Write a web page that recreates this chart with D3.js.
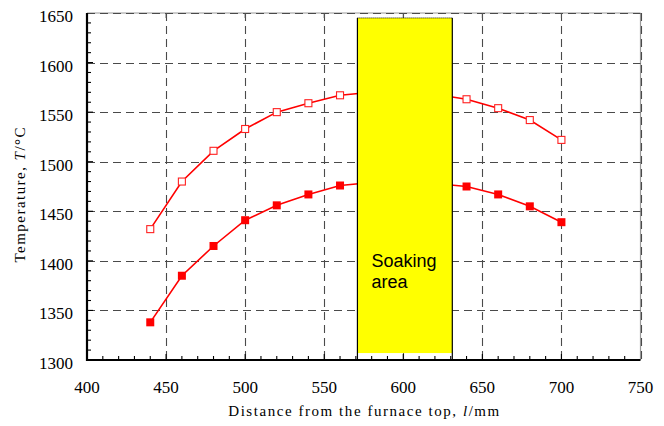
<!DOCTYPE html>
<html>
<head>
<meta charset="utf-8">
<script src="https://cdn.jsdelivr.net/npm/d3@7"></script>
<style>
html,body{margin:0;padding:0;background:#fff;}
svg{display:block;}
</style>
</head>
<body>
<svg id="chart" width="664" height="426"></svg>
<script>
// ---- data ----
const distances = [440, 460, 480, 500, 520, 540, 560, 580, 600, 620, 640, 660, 680, 700];
const surfaceTemp = [1432, 1480, 1511, 1533, 1550, 1559, 1567, 1570, 1571, 1568, 1563, 1554, 1542, 1522];
const centerTemp  = [1338, 1385, 1415, 1441, 1456, 1467, 1476, 1479, 1480, 1478, 1475, 1467, 1455, 1439];
const xTicks = [400, 450, 500, 550, 600, 650, 700, 750];
const yTicks = [1300, 1350, 1400, 1450, 1500, 1550, 1600, 1650];
const soakingRange = [571, 631];
const soakingTemp = [1307, 1645];
const soakingLabel = ["Soaking", "area"];

// ---- layout ----
const L = 87, R = 640.5, T = 13, B = 360;
const svg = d3.select("#chart");
const x = d3.scaleLinear().domain([400, 750]).range([L, R]);
const y = d3.scaleLinear().domain([1300, 1650]).range([B, T]);
const serif = "'Liberation Serif', 'Times New Roman', serif";

// frame top/right (gray)
svg.append("line").attr("x1", L).attr("x2", R).attr("y1", T).attr("y2", T)
  .attr("stroke", "#9a9a9a").attr("stroke-width", 1.2);
svg.append("line").attr("x1", R).attr("x2", R).attr("y1", T).attr("y2", B)
  .attr("stroke", "#9a9a9a").attr("stroke-width", 1.2);

// dashed grid
const gridG = svg.append("g").attr("stroke", "#4a4a4a").attr("stroke-width", 1.1)
  .attr("stroke-dasharray", "8,5").attr("fill", "none");
yTicks.filter(v => v > 1300).forEach(v => {
  gridG.append("line").attr("x1", L).attr("x2", R).attr("y1", Math.round(y(v)) + 0.5).attr("y2", Math.round(y(v)) + 0.5);
});
xTicks.filter(v => v > 400).forEach(v => {
  gridG.append("line").attr("y1", T).attr("y2", B).attr("x1", Math.round(x(v)) + 0.5).attr("x2", Math.round(x(v)) + 0.5);
});

// top major ticks
xTicks.filter(v => v > 400 && v < 750).forEach(v => {
  svg.append("line").attr("x1", x(v)).attr("x2", x(v)).attr("y1", T).attr("y2", T + 5)
    .attr("stroke", "#555").attr("stroke-width", 1);
});

// series lines & markers
const line = d3.line().x(d => x(d[0])).y(d => y(d[1]));
const s1 = distances.map((d, i) => [d, surfaceTemp[i]]);
const s2 = distances.map((d, i) => [d, centerTemp[i]]);
svg.append("path").datum(s1).attr("d", line).attr("fill", "none").attr("stroke", "#ff0000").attr("stroke-width", 1.6);
svg.append("path").datum(s2).attr("d", line).attr("fill", "none").attr("stroke", "#ff0000").attr("stroke-width", 1.6);
const ms = 7;
svg.append("g").selectAll("rect").data(s1).join("rect")
  .attr("x", d => x(d[0]) - ms / 2).attr("y", d => y(d[1]) - ms / 2)
  .attr("width", ms).attr("height", ms)
  .attr("fill", "#fff").attr("stroke", "#ff2020").attr("stroke-width", 1.1);
svg.append("g").selectAll("rect").data(s2).join("rect")
  .attr("x", d => x(d[0]) - (ms + 1) / 2).attr("y", d => y(d[1]) - (ms + 1) / 2)
  .attr("width", ms + 1).attr("height", ms + 1)
  .attr("fill", "#ff0000");

// soaking area
const rx0 = x(soakingRange[0]), rx1 = x(soakingRange[1]);
svg.append("rect").attr("x", rx0).attr("y", y(soakingTemp[1]))
  .attr("width", rx1 - rx0).attr("height", y(soakingTemp[0]) - y(soakingTemp[1]))
  .attr("fill", "#ffff00");
svg.append("line").attr("x1", rx0).attr("x2", rx1).attr("y1", y(soakingTemp[1])).attr("y2", y(soakingTemp[1]))
  .attr("stroke", "#000").attr("stroke-width", 1).attr("stroke-dasharray", "1,1");
[rx0, rx1].forEach(xx => {
  svg.append("line").attr("x1", xx).attr("x2", xx).attr("y1", y(soakingTemp[1])).attr("y2", B)
    .attr("stroke", "#000").attr("stroke-width", 1.2);
});
svg.append("g").selectAll("text").data(soakingLabel).join("text")
  .attr("x", rx0 + 14).attr("y", (d, i) => 267 + i * 21)
  .attr("font-family", "'Liberation Sans', Arial, sans-serif").attr("font-size", 18)
  .attr("fill", "#000").text(d => d);

// minor / major ticks on left and bottom
const tickG = svg.append("g").attr("stroke", "#000").attr("stroke-width", 1.1);
d3.range(1310, 1650, 10).forEach(v => {
  const len = v % 50 === 0 ? 6 : 4;
  tickG.append("line").attr("x1", L).attr("x2", L + len).attr("y1", y(v)).attr("y2", y(v));
});
d3.range(410, 750, 10).forEach(v => {
  const len = v % 50 === 0 ? 6 : 4;
  tickG.append("line").attr("x1", x(v)).attr("x2", x(v)).attr("y1", B).attr("y2", B - len);
});

// left & bottom axes (black)
svg.append("line").attr("x1", L).attr("x2", L).attr("y1", T).attr("y2", B + 1)
  .attr("stroke", "#000").attr("stroke-width", 2.2);
svg.append("line").attr("x1", L - 1).attr("x2", R).attr("y1", B).attr("y2", B)
  .attr("stroke", "#000").attr("stroke-width", 2.2);

// tick labels
svg.append("g").selectAll("text").data(yTicks).join("text")
  .attr("x", L - 14).attr("y", d => y(d) + 3).attr("dy", "0.35em")
  .attr("text-anchor", "end").attr("font-family", serif).attr("font-size", 17)
  .attr("fill", "#000").text(d => d);
svg.append("g").selectAll("text").data(xTicks).join("text")
  .attr("x", d => x(d)).attr("y", 393)
  .attr("text-anchor", "middle").attr("font-family", serif).attr("font-size", 17)
  .attr("fill", "#000").text(d => d);

// axis titles
const xt = svg.append("text").attr("x", (L + R) / 2).attr("y", 416)
  .attr("text-anchor", "middle").attr("font-family", serif).attr("font-size", 15)
  .attr("textLength", 271).attr("lengthAdjust", "spacing").attr("fill", "#000");
xt.append("tspan").text("Distance from the furnace top, ");
xt.append("tspan").attr("font-style", "italic").text("l");
xt.append("tspan").text("/mm");

const yt = svg.append("text").attr("transform", "translate(25,195) rotate(-90)")
  .attr("text-anchor", "middle").attr("font-family", serif).attr("font-size", 15)
  .attr("textLength", 135).attr("lengthAdjust", "spacing").attr("fill", "#000");
yt.append("tspan").text("Temperature, ");
yt.append("tspan").attr("font-style", "italic").text("T");
yt.append("tspan").text("/°C");
</script>
</body>
</html>
